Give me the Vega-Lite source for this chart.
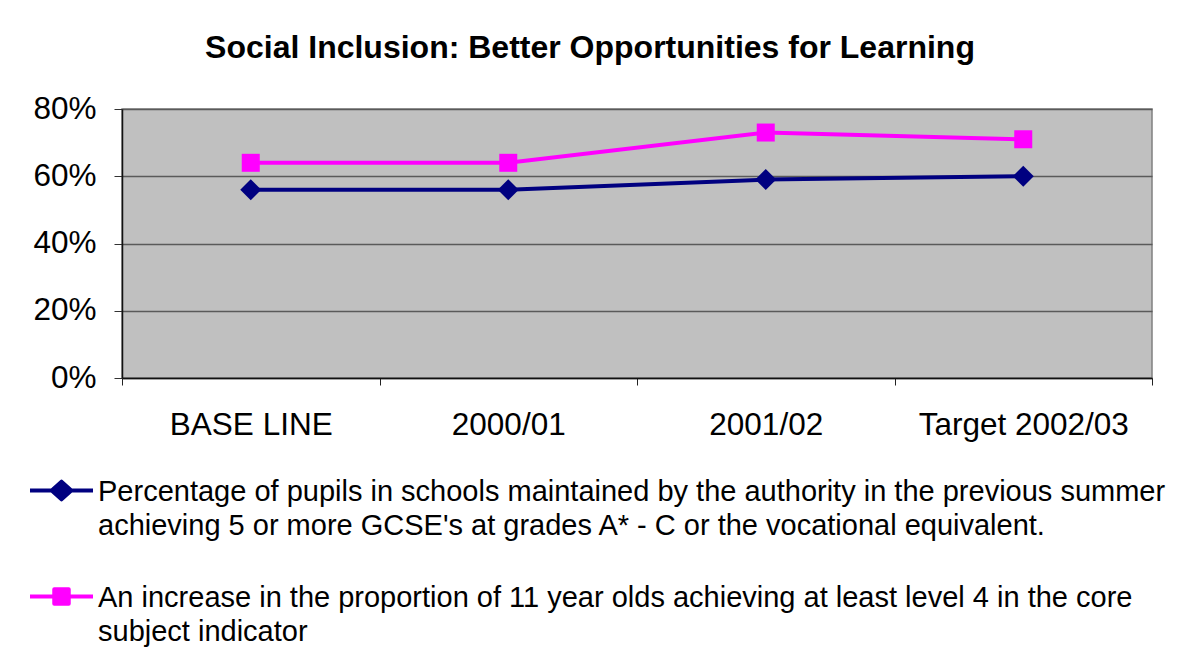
{
  "$schema": "https://vega.github.io/schema/vega-lite/v6.json",
  "width": 1030,
  "height": 269,
  "autosize": {"type": "none"},
  "padding": {"left": 122, "top": 109, "right": 33, "bottom": 280},
  "background": "white",
  "title": {
    "text": "Social Inclusion: Better Opportunities for Learning",
    "font": "Liberation Sans",
    "fontSize": 32,
    "fontWeight": "bold",
    "color": "black",
    "anchor": "middle",
    "frame": "group",
    "baseline": "alphabetic",
    "offset": 3,
    "dx": -47
  },
  "data": {
    "values": [
      {"period": "BASE LINE", "series": "GCSE", "value": 0.56},
      {"period": "2000/01", "series": "GCSE", "value": 0.56},
      {"period": "2001/02", "series": "GCSE", "value": 0.59},
      {"period": "Target 2002/03", "series": "GCSE", "value": 0.60},
      {"period": "BASE LINE", "series": "KS2", "value": 0.64},
      {"period": "2000/01", "series": "KS2", "value": 0.64},
      {"period": "2001/02", "series": "KS2", "value": 0.73},
      {"period": "Target 2002/03", "series": "KS2", "value": 0.71}
    ]
  },
  "encoding": {
    "x": {
      "field": "period",
      "type": "nominal",
      "sort": ["BASE LINE", "2000/01", "2001/02", "Target 2002/03"],
      "scale": {"type": "band", "paddingInner": 0, "paddingOuter": 0},
      "axis": {
        "title": null,
        "labelAngle": 0,
        "labelFont": "Liberation Sans",
        "labelFontSize": 31.5,
        "labelColor": "black",
        "labelBaseline": "alphabetic",
        "labelPadding": 49,
        "labelLimit": 0,
        "tickBand": "extent",
        "tickSize": 7,
        "tickColor": "#222",
        "domainColor": "#111",
        "domainWidth": 1.5,
        "grid": false
      }
    },
    "y": {
      "field": "value",
      "type": "quantitative",
      "scale": {"domain": [0, 0.8], "nice": false},
      "axis": {
        "title": null,
        "values": [0, 0.2, 0.4, 0.6, 0.8],
        "format": ".0%",
        "labelFont": "Liberation Sans",
        "labelFontSize": 31.5,
        "labelColor": "black",
        "labelPadding": 18,
        "tickSize": 8,
        "tickColor": "#333",
        "domainColor": "#111",
        "domainWidth": 1.5,
        "grid": true,
        "gridColor": "#5a5a5a",
        "gridWidth": 1.5
      }
    }
  },
  "layer": [
    {
      "mark": {"type": "line", "strokeWidth": 4},
      "encoding": {
        "color": {
          "field": "series",
          "type": "nominal",
          "scale": {"domain": ["GCSE", "KS2"], "range": ["#000080", "#FF00FF"]},
          "legend": {
            "orient": "none",
            "legendX": -94,
            "legendY": 348,
            "title": null,
            "direction": "vertical",
            "symbolSize": 3969,
            "symbolStrokeWidth": 4,
            "labelOffset": 3,
            "labelFont": "Liberation Sans",
            "labelFontSize": 29,
            "labelColor": "black",
            "labelLimit": 0,
            "labelBaseline": "alphabetic",
            "rowPadding": 22,
            "labelExpr": "datum.value == 'GCSE' ? ['Percentage of pupils in schools maintained by the authority in the previous summer', 'achieving 5 or more GCSE\\'s at grades A* - C or the vocational equivalent.'] : ['An increase in the proportion of 11 year olds achieving at least level 4 in the core', 'subject indicator']",
            "encode": {
              "symbols": {
                "update": {
                  "shape": {"signal": "datum.value == 'GCSE' ? 'M-1,0H1M0,-0.28L0.31,0L0,0.28L-0.31,0Z' : 'M-1,0H1M-0.23,-0.23H0.23V0.23H-0.23Z'"},
                  "fill": {"scale": "color", "field": "value"},
                  "stroke": {"scale": "color", "field": "value"},
                  "strokeWidth": {"value": 4},
                  "strokeJoin": {"value": "round"},
                  "size": {"value": 3969},
                  "opacity": {"value": 1}
                }
              },
              "labels": {
                "update": {
                  "lineHeight": {"value": 34},
                  "dy": {"value": 10}
                }
              }
            }
          }
        }
      }
    },
    {
      "transform": [{"filter": "datum.series == 'GCSE'"}],
      "mark": {"type": "point", "filled": true, "opacity": 1, "shape": "diamond", "size": 441, "color": "#000080"}
    },
    {
      "transform": [{"filter": "datum.series == 'KS2'"}],
      "mark": {"type": "point", "filled": true, "opacity": 1, "shape": "square", "size": 324, "color": "#FF00FF"}
    }
  ],
  "config": {
    "view": {"stroke": "#808080", "strokeWidth": 1.5, "fill": "#C0C0C0"},
    "font": "Liberation Sans"
  }
}
